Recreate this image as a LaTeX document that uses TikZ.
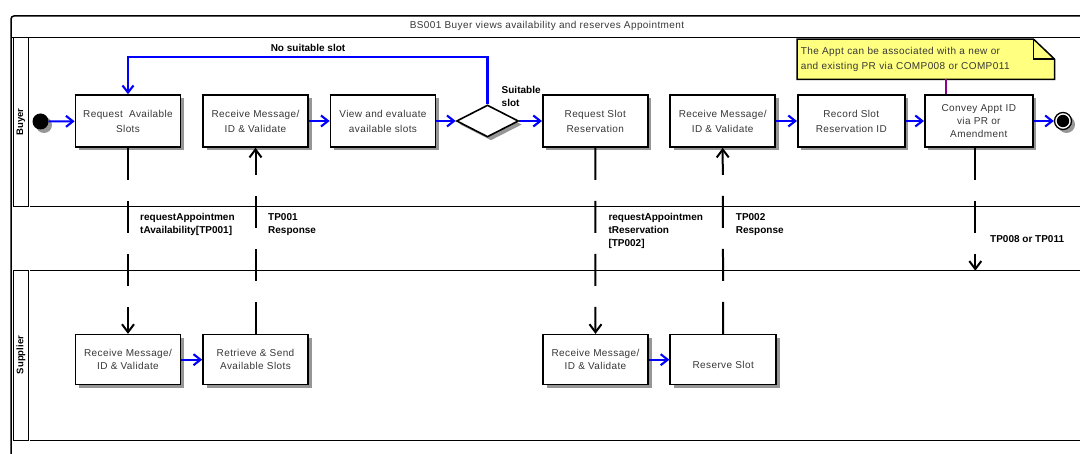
\documentclass[tikz,border=0pt]{standalone}
\usepackage{fontspec}
\setmainfont{Liberation Sans}
\newfontfamily\spfont[LetterSpace=4]{Liberation Sans}
\usetikzlibrary{arrows.meta,shapes.geometric,shadows,calc}
\definecolor{notey}{RGB}{255,255,128}
\definecolor{txtgray}{RGB}{55,55,55}
\definecolor{flowblue}{RGB}{0,0,255}
\definecolor{notepurple}{RGB}{140,0,140}
\definecolor{shgray}{RGB}{150,150,150}
\begin{document}
\begin{tikzpicture}[x=1pt,y=-1pt,
  frame/.style={line width=1.5pt},
  shd/.style={drop shadow={shadow xshift=3.5pt, shadow yshift=-3.5pt, fill=shgray, opacity=1}},
  act/.style={draw, line width=1.6pt, fill=white, minimum width=105pt, minimum height=52pt,
    align=center, inner sep=2pt, font=\spfont\fontsize{10}{15}\selectfont, text=txtgray, shd,
    execute at begin node={\rule{0pt}{17pt}}},
  sact/.style={act, minimum height=50pt, font=\spfont\fontsize{10}{13}\selectfont,
    execute at begin node={\rule{0pt}{15pt}}},
  flow/.style={draw=flowblue, line width=2.1pt, -{Straight Barb[length=7pt,width=11pt]}},
  msg/.style={draw=black, line width=2pt, dash pattern=on 32pt off 21pt, -{Straight Barb[length=8pt,width=12pt]}},
  msglabel/.style={font=\fontsize{10}{13}\selectfont\bfseries, align=left, anchor=north west, inner sep=0pt},
  lanelabel/.style={rotate=90, font=\fontsize{9.5}{9.5}\selectfont\bfseries, inner sep=0pt}
]
\useasboundingbox (0,0) rectangle (1080,454);
% frame and lanes
\draw[frame, rounded corners=3pt] (11,454) -- (11,16) -- (1080,16);
\draw[frame] (11,37.3) -- (1080,37.3);
\node[font=\spfont\fontsize{10}{12}\selectfont, text=txtgray] (title) at (547,25.5) {BS001 Buyer views availability and reserves Appointment};
\draw[frame] (13.3,37.3) rectangle (28.3,206.7);
\draw[frame] (29.5,206.7) -- (1080,206.7);
\draw[frame] (29.5,270.7) -- (1080,270.7);
\draw[frame] (13.3,270.7) rectangle (28.3,440.3);
\draw[frame] (29.5,440.3) -- (1080,440.3);
\node[lanelabel] (buyer) at (20.8,122) {Buyer};
\node[lanelabel] (supplier) at (20.8,355) {Supplier};

% buyer activities
\node[circle, fill=black, minimum size=16pt, inner sep=0pt, shd] (start) at (40.5,121.5) {};
\node[act] (reqav) at (128,121) {Request\ \ Available\\Slots};
\node[act] (recv1) at (255.5,121) {Receive Message/\\ID \& Validate};
\node[act] (view) at (383,121) {View and evaluate\\available slots};
\node[diamond, draw, line width=1.6pt, fill=white, minimum width=62pt, minimum height=32pt, inner sep=0pt, shd] (dec) at (487.5,121) {};
\node[act] (reqres) at (595.3,121) {Request Slot\\Reservation};
\node[act] (recv2) at (722.7,121) {Receive Message/\\ID \& Validate};
\node[act, minimum width=107pt] (record) at (851.3,121) {Record Slot\\Reservation ID};
\node[act, minimum width=108pt, font=\spfont\fontsize{10}{13}\selectfont, execute at begin node={\rule{0pt}{15pt}}] (convey) at (978.8,121) {Convey Appt ID\\via PR or\\Amendment};
\node[circle, draw, line width=1.3pt, fill=white, minimum size=17pt, inner sep=0pt, shd] (end) at (1063,121) {};
\fill (end.center) circle (6.2pt);

% supplier activities
\node[sact] (srecv1) at (128,359.7) {Receive Message/\\ID \& Validate};
\node[sact] (retr) at (255.5,359.7) {Retrieve \& Send\\Available Slots};
\node[sact] (srecv2) at (595.5,359.7) {Receive Message/\\ID \& Validate};
\node[sact, minimum width=106pt, execute at begin node={\rule{0pt}{13pt}}] (reserve) at (723.2,359.7) {Reserve Slot};

% note
\node[inner sep=0pt, minimum width=257pt, minimum height=40pt] (note) at (925.8,59.3) {};
\begin{scope}[shift={(3.5,3.5)}]
\fill[shgray] (note.north west) -- ($(note.north east)+(-21,0)$) -- ($(note.north east)+(0,20)$) -- (note.south east) -- (note.south west) -- cycle;
\end{scope}
\draw[line width=1.5pt, fill=notey] (note.north west) -- ($(note.north east)+(-21,0)$) -- ($(note.north east)+(0,20)$) -- (note.south east) -- (note.south west) -- cycle;
\draw[line width=1.5pt] ($(note.north east)+(-21,0)$) -- ($(note.north east)+(-21,20)$) -- ($(note.north east)+(0,20)$);
\node[inner sep=0pt, text width=250pt, align=left, font=\spfont\fontsize{10}{15}\selectfont, text=txtgray] (notetext) at (note.center) {The Appt can be associated with a new or\\and existing PR via COMP008 or COMP011};
\coordinate (pp) at (945.7,0);
\draw[notepurple, line width=1.6pt] (note.south -| pp) -- (convey.north -| pp);

% control flows
\draw[flow] (start) -- (reqav);
\draw[flow] (recv1) -- (view);
\draw[flow] (view) -- (dec);
\draw[flow] (dec) -- (reqres);
\draw[flow] (recv2) -- (record);
\draw[flow] (record) -- (convey);
\draw[flow] (convey) -- (end);
\draw[flow] (srecv1) -- (retr);
\draw[flow] (srecv2) -- (reserve);
\draw[flow] (dec.north) -- ++(0,-47) -| (reqav.north);
\node[font=\fontsize{10}{12}\selectfont\bfseries, inner sep=0pt] (nolabel) at (308,48) {No suitable slot};
\node[msglabel, font=\fontsize{10}{12.5}\selectfont\bfseries] (yeslabel) at (501.5,86.5) {Suitable\\slot};

% messages
\draw[msg] (reqav.south) -- (srecv1.north);
\draw[msg] (retr.north) -- (recv1.south);
\draw[msg] (reqres.south) -- (srecv2.north);
\draw[msg] (reserve.north) -- (recv2.south);
\coordinate (tpend) at (975.3,270.7);
\draw[msg] (convey.south -| tpend) -- (tpend);
\node[msglabel] (m1) at (140,213.5) {requestAppointmen\\tAvailability[TP001]};
\node[msglabel] (m2) at (268,213.5) {TP001\\Response};
\node[msglabel] (m3) at (608.3,213.5) {requestAppointmen\\tReservation\\{[TP002]}};
\node[msglabel] (m4) at (735.7,213.5) {TP002\\Response};
\node[msglabel] (m5) at (990,235) {TP008 or TP011};
\end{tikzpicture}
\end{document}
